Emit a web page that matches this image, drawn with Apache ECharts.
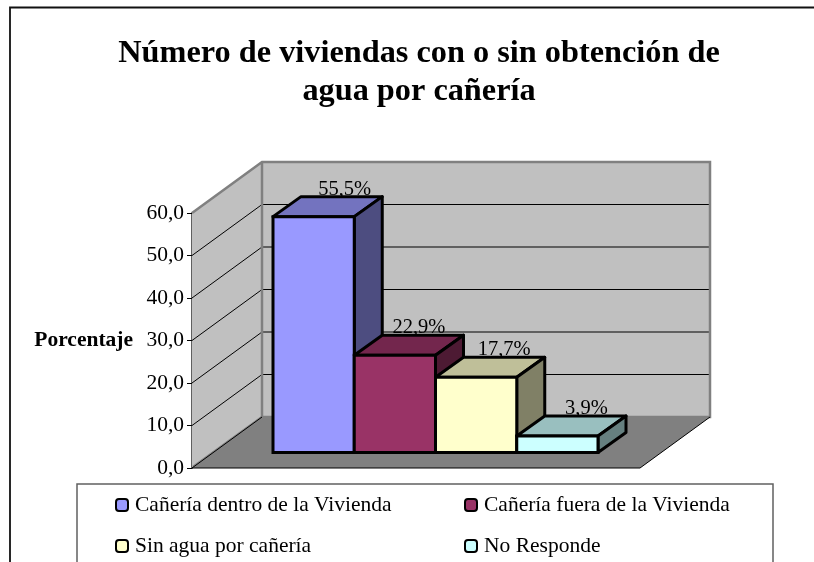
<!DOCTYPE html>
<html><head><meta charset="utf-8">
<style>html,body{margin:0;padding:0;background:#fff}#c{width:814px;height:562px}</style>
<script src="https://cdn.jsdelivr.net/npm/echarts@6/dist/echarts.min.js"></script></head>
<body><div id="c"></div>
<script>
const categories = ['Cañería dentro de la Vivienda','Cañería fuera de la Vivienda','Sin agua por cañería','No Responde'];
const values = [55.5, 22.9, 17.7, 3.9];
const valueLabels = ['55,5%','22,9%','17,7%','3,9%'];
const yTicks = [0,10,20,30,40,50,60];
const frontColors = ['#9999FF','#993366','#FFFFCC','#CCFFFF'];
const topColors = ['#7373BF','#73264D','#BFBF99','#99BFBF'];
const sideColors = ['#4D4D80','#4D1A33','#808066','#668080'];
const titleText = 'Número de viviendas con o sin obtención de\nagua por cañería';
const FONT = '"Liberation Serif","Times New Roman",serif';

const barLift = 15.5, barDx = 28, barDy = -20;
const wallDx = 70, wallDy = -51, axisOffset = 81, floorW = 448;
const labelNudge = [3,-4,0,1];

function renderWalls(params, api){
  const y0 = api.coord([0,0]);
  const x0 = y0[0] - api.size([1,0])[0]/2 - axisOffset;
  const base = y0[1];
  const yAt = v => api.coord([0,v])[1];
  const top = yAt(60);
  const gray = {stroke:'#808080',lineWidth:2.5};
  const ch = [];
  ch.push({type:'polygon',shape:{points:[[x0,base],[x0+wallDx,base+wallDy],[x0+wallDx+floorW,base+wallDy],[x0+floorW,base]]},style:{fill:'#808080'}});
  ch.push({type:'polygon',shape:{points:[[x0,top],[x0+wallDx,top+wallDy],[x0+wallDx,base+wallDy],[x0,base]]},style:{fill:'#C0C0C0'}});
  ch.push({type:'rect',shape:{x:x0+wallDx,y:top+wallDy,width:floorW,height:base-top},style:{fill:'#C0C0C0'}});
  yTicks.slice(1,-1).forEach(v=>{
    const y = yAt(v);
    ch.push({type:'polyline',shape:{points:[[x0,y],[x0+wallDx,y+wallDy],[x0+wallDx+floorW,y+wallDy]]},style:{stroke:'#000',lineWidth:1,fill:null}});
  });
  ch.push({type:'polyline',shape:{points:[[x0,top],[x0+wallDx,top+wallDy],[x0+wallDx+floorW,top+wallDy],[x0+wallDx+floorW,base+wallDy],[x0+wallDx,base+wallDy],[x0+wallDx,top+wallDy]]},style:Object.assign({fill:null},gray)});
  ch.push({type:'line',shape:{x1:x0+1,y1:base-1,x2:x0+wallDx,y2:base+wallDy},style:gray});
  ch.push({type:'polyline',shape:{points:[[x0+wallDx,base+wallDy],[x0,base],[x0+floorW,base],[x0+wallDx+floorW,base+wallDy]]},style:{stroke:'#000',lineWidth:1,fill:null}});
  return {type:'group',children:ch};
}

function renderBar(i){
  return function(params, api){
    const c = api.coord([i, api.value(1)]);
    const b = api.coord([i, 0]);
    const w = api.size([1,0])[0];
    const l = c[0]-w/2, r = c[0]+w/2, t = c[1]-barLift, y2 = b[1]-barLift;
    const line = {stroke:'#000',lineWidth:3,lineJoin:'round'};
    return {type:'group',children:[
      {type:'text',style:{text:valueLabels[i],x:(l+r)/2+barDx+labelNudge[i],y:t+barDy+3,align:'center',verticalAlign:'bottom',font:'20.5px '+FONT,fill:'#000'}},
      {type:'polygon',shape:{points:[[l,t],[l+barDx,t+barDy],[r+barDx,t+barDy],[r,t]]},style:Object.assign({fill:topColors[i]},line)},
      {type:'polygon',shape:{points:[[r,t],[r+barDx,t+barDy],[r+barDx,y2+barDy],[r,y2]]},style:Object.assign({fill:sideColors[i]},line)},
      {type:'rect',shape:{x:l,y:t,width:w,height:y2-t},style:Object.assign({fill:frontColors[i]},line,{lineJoin:'miter'})}
    ]};
  };
}

const chart = echarts.init(document.getElementById('c'),null,{renderer:'canvas'});
const legendBase = {orient:'vertical',padding:0,itemWidth:12,itemHeight:12,itemGap:19,textStyle:{fontFamily:FONT,fontSize:21.5,color:'#000',padding:[0,0,0,2]},selectedMode:false};
chart.setOption({
  animation:false,
  backgroundColor:'#fff',
  title:{text:titleText,left:414,top:30,textAlign:'center',textStyle:{fontFamily:FONT,fontWeight:'bold',fontSize:32.3,lineHeight:37.5,color:'#000'}},
  grid:{left:273,width:325,top:213,height:255},
  xAxis:{type:'category',data:categories,show:false},
  yAxis:{type:'value',min:0,max:60,interval:10,offset:81,
    axisLine:{show:true,lineStyle:{color:'#606060',width:2}},
    axisTick:{show:true,length:5,lineStyle:{color:'#000'}},
    splitLine:{show:false},
    axisLabel:{fontFamily:FONT,fontSize:21.5,color:'#000',margin:8,formatter:v=>v.toFixed(1).replace('.',',')},
    name:'Porcentaje',nameLocation:'middle',nameRotate:0,nameGap:59,
    nameTextStyle:{fontFamily:FONT,fontSize:21.5,fontWeight:'bold',color:'#000'}},
  legend:[
    Object.assign({left:115,top:494,data:[categories[0],categories[2]]},legendBase),
    Object.assign({left:464,top:494,data:[categories[1],categories[3]]},legendBase)
  ],
  graphic:[
    {type:'polyline',silent:true,z:-1,shape:{points:[[10,562],[10,7.5],[814,7.5]]},style:{stroke:'#111',lineWidth:1.8,fill:null}},
    {type:'polyline',silent:true,z:-1,shape:{points:[[77,562],[77,484],[773,484],[773,562]]},style:{stroke:'#606060',lineWidth:1.5,fill:null}}
  ],
  series:[{type:'custom',name:'paredes',data:[[0,0]],renderItem:renderWalls,silent:true,clip:false,z:1}]
    .concat(categories.map((c,i)=>({type:'custom',name:c,data:[[i,values[i]]],renderItem:renderBar(i),clip:false,z:2+i,
      itemStyle:{color:frontColors[i],borderColor:'#000',borderWidth:2.5}})))
});
</script></body></html>
